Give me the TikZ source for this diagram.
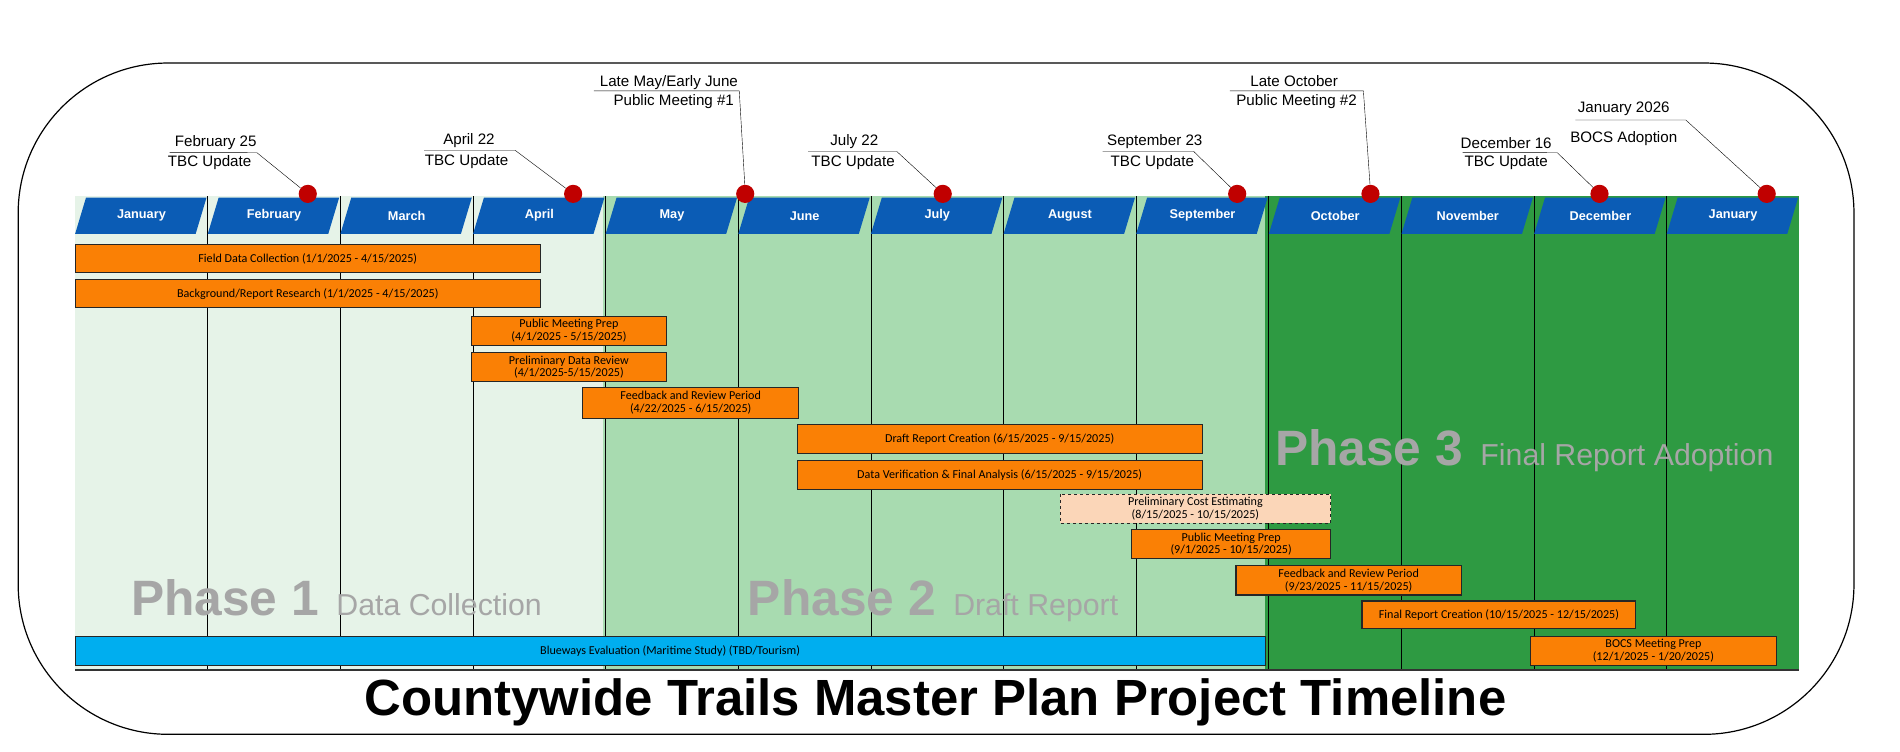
\documentclass[tikz,border=0pt]{standalone}
\usepackage{fontspec}
\setmainfont{Liberation Sans}
\newfontfamily\barfont{Carlito}
\usetikzlibrary{positioning}

\definecolor{monthblue}{HTML}{0B5CB5}
\definecolor{phaseone}{HTML}{E6F3E8}
\definecolor{phasetwo}{HTML}{A8DBB0}
\definecolor{phasethree}{HTML}{2E9A42}
\definecolor{barorange}{HTML}{FA8005}
\definecolor{costpeach}{HTML}{FBD6B8}
\definecolor{bluewayblue}{HTML}{00AEEF}
\definecolor{phasegray}{HTML}{A6A6A6}
\definecolor{dotred}{HTML}{C00000}

\tikzset{
  bar/.style={draw=black!85, line width=1.1pt, fill=barorange},
  bartext/.style={font=\barfont\fontsize{10}{10.5}\selectfont, align=center, inner sep=0pt},
  callout/.style={font=\fontsize{12.5}{14}\selectfont, inner sep=1pt},
  milestone/.style={circle, fill=dotred, minimum size=15pt, inner sep=0pt},
  phasebig/.style={font=\bfseries\fontsize{41}{41}\selectfont, text=phasegray, anchor=base west, inner sep=0pt},
  phasesmall/.style={font=\fontsize{25}{25}\selectfont, text=phasegray, anchor=base west, inner sep=0pt},
}

\newcommand{\taskbar}[7][bar]{%
  \draw[#1] (#3,#5) rectangle (#4,#6) node[bartext, midway] (#2) {#7};}

\begin{document}
\begin{tikzpicture}[x=1pt, y=-1pt, scale=1.2117, every node/.append style={transform shape}]
\useasboundingbox (0,0) rectangle (1568,620);

% outer frame
\draw[line width=1.2pt, rounded corners=150pt] (15,52) rectangle (1530,606);

% phase backgrounds
\fill[phaseone] (62,162) rectangle (498,553);
\fill[phasetwo] (498,162) rectangle (1044,553);
\fill[phasethree] (1044,162) rectangle (1485,553);

% grid
\foreach \i in {1,...,12}
  \draw[black, line width=0.8pt] ({62+109.46*\i},162) -- ({62+109.46*\i},553);
\draw[black!80, line width=1.2pt] (62,553) -- (1485,553);

% month headers
\foreach \m [count=\i from 0] in {January,February,March,April,May,June,July,August,September,October,November,December,January}{
  \pgfmathsetmacro{\xa}{62+109.46*\i}
  \pgfmathsetmacro{\xb}{62+109.46*(\i+1)}
  \fill[monthblue] (\xa,193) -- (\xa+9,163) -- (\xb-1,163) -- (\xb-10,193) -- cycle;
  \node[text=white, font=\bfseries\fontsize{10.5}{11}\selectfont] (month\i) at ({(\xa+\xb)/2},178) {\m};
}

% phase titles
\node[phasebig] (p1) at (108,508) {Phase 1};
\node[phasesmall, right=14pt of p1.base east, anchor=base west] (p1t) {Data Collection};
\node[phasebig] (p2) at (617,508) {Phase 2};
\node[phasesmall, right=14pt of p2.base east, anchor=base west] (p2t) {Draft Report};
\node[phasebig] (p3) at (1052,384) {Phase 3};
\node[phasesmall, right=14pt of p3.base east, anchor=base west] (p3t) {Final Report Adoption};

% tasks
\taskbar{field}{62}{446}{202}{225}{Field Data Collection (1/1/2025 - 4/15/2025)}
\taskbar{research}{62}{446}{231}{254}{Background/Report Research (1/1/2025 - 4/15/2025)}
\taskbar{prepone}{389}{550}{261}{285}{Public Meeting Prep\\(4/1/2025 - 5/15/2025)}
\taskbar{review}{389}{550}{291}{315}{Preliminary Data Review\\(4/1/2025-5/15/2025)}
\taskbar{feedone}{481}{659}{320}{345}{Feedback and Review Period\\(4/22/2025 - 6/15/2025)}
\taskbar{draft}{658}{992}{350}{374}{Draft Report Creation (6/15/2025 - 9/15/2025)}
\taskbar{verify}{658}{992}{380}{404}{Data Verification \& Final Analysis (6/15/2025 - 9/15/2025)}
\taskbar[bar, fill=costpeach, dashed, line width=1.5pt]{cost}{875}{1098}{408}{432}{Preliminary Cost Estimating\\(8/15/2025 - 10/15/2025)}
\taskbar{preptwo}{934}{1098}{437}{461}{Public Meeting Prep\\(9/1/2025 - 10/15/2025)}
\taskbar{feedtwo}{1020}{1206}{467}{491}{Feedback and Review Period\\(9/23/2025 - 11/15/2025)}
\taskbar{final}{1124}{1350}{496}{519}{Final Report Creation (10/15/2025 - 12/15/2025)}
\taskbar[bar, fill=bluewayblue]{blueways}{62}{1044}{525}{549}{Blueways Evaluation (Maritime Study) (TBD/Tourism)}
\taskbar{bocsprep}{1263}{1466}{525}{549}{BOCS Meeting Prep\\(12/1/2025 - 1/20/2025)}

% milestones
\node[milestone] (feb) at (254,160) {};
\node[milestone] (apr) at (473,160) {};
\node[milestone] (may) at (615,160) {};
\node[milestone] (jul) at (778,160) {};
\node[milestone] (sep) at (1021,160) {};
\node[milestone] (oct) at (1131,160) {};
\node[milestone] (dec) at (1320,160) {};
\node[milestone] (jan) at (1458,160) {};

% callouts
\node[callout] (febdate) at (178,118) {February 25};
\node[callout] (febtext) at (173,134) {TBC Update};
\coordinate (febend) at (212,126);
\draw (140,126) -- (febend) -- (feb);

\node[callout] (aprdate) at (387,116) {April 22};
\node[callout] (aprtext) at (385,133) {TBC Update};
\coordinate (aprend) at (425,124);
\draw (350,124) -- (aprend) -- (apr);

\node[callout] (maydate) at (552,68) {Late May/Early June};
\node[callout] (maytext) at (556,84) {Public Meeting \#1};
\coordinate (mayend) at (610,75);
\draw (490,75) -- (mayend) -- (may);

\node[callout] (juldate) at (705,117) {July 22};
\node[callout] (jultext) at (704,134) {TBC Update};
\coordinate (julend) at (740,125);
\draw (667,125) -- (julend) -- (jul);

\node[callout] (sepdate) at (953,117) {September 23};
\node[callout] (septext) at (951,134) {TBC Update};
\coordinate (sepend) at (985,125);
\draw (910,125) -- (sepend) -- (sep);

\node[callout] (octdate) at (1068,67) {Late October};
\node[callout] (octtext) at (1070,84) {Public Meeting \#2};
\coordinate (octend) at (1125,75);
\draw (1015,75) -- (octend) -- (oct);

\node[callout] (decdate) at (1243,118) {December 16};
\node[callout] (dectext) at (1243,134) {TBC Update};
\coordinate (decend) at (1285,126);
\draw (1207,126) -- (decend) -- (dec);

\node[callout] (jandate) at (1340,90) {January 2026};
\node[callout] (jantext) at (1340,114) {BOCS Adoption};
\coordinate (janend) at (1391,99);
\draw (1300,99) -- (janend) -- (jan);

% title
\node[font=\bfseries\fontsize{42}{44}\selectfont] (title) at (772,580) {Countywide Trails Master Plan Project Timeline};
\end{tikzpicture}
\end{document}
